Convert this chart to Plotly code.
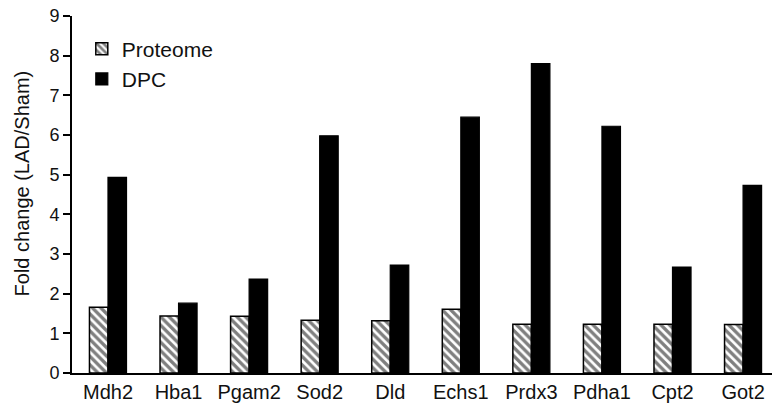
import plotly.graph_objects as go

genes = ["Mdh2", "Hba1", "Pgam2", "Sod2", "Dld", "Echs1", "Prdx3", "Pdha1", "Cpt2", "Got2"]
proteome = [1.66, 1.44, 1.43, 1.33, 1.32, 1.61, 1.23, 1.23, 1.23, 1.22]
dpc = [4.93, 1.76, 2.37, 5.98, 2.72, 6.45, 7.80, 6.22, 2.67, 4.73]
y_ticks = [0, 1, 2, 3, 4, 5, 6, 7, 8, 9]

FONT = "Liberation Sans, Arial, sans-serif"

fig = go.Figure()
fig.add_trace(go.Bar(
    x=genes, y=proteome, name="Proteome",
    marker=dict(color="white", line=dict(color="black", width=1.5),
                pattern=dict(shape="\\", fgcolor="black", bgcolor="white",
                             size=6, solidity=0.55)),
))
fig.add_trace(go.Bar(
    x=genes, y=dpc, name="DPC",
    marker=dict(color="black", line=dict(color="black", width=1.2)),
))

fig.update_layout(
    width=772, height=413,
    margin=dict(l=72, r=0, t=16, b=40, autoexpand=False),
    plot_bgcolor="white", paper_bgcolor="white",
    barmode="group", bargap=0.475, bargroupgap=0,
    font=dict(family=FONT, color="#111", size=18),
    showlegend=True,
    legend=dict(x=0.014, y=0.965, xanchor="left", yanchor="top",
                font=dict(size=21, family=FONT), bgcolor="rgba(0,0,0,0)",
                itemwidth=30, tracegroupgap=0),
    xaxis=dict(range=[-0.51, 9.41], showline=True, linecolor="black", linewidth=2,
               ticks="", tickfont=dict(size=20), showgrid=False, automargin=False),
    yaxis=dict(range=[0, 9], tickvals=y_ticks, showline=True, linecolor="black",
               linewidth=2, ticks="outside", ticklen=7, tickwidth=2, tickcolor="black",
               tickfont=dict(size=18), showgrid=False, zeroline=False, automargin=False),
    annotations=[dict(text="Fold change (LAD/Sham)", textangle=-90,
                      xref="paper", yref="paper", x=-0.0714, y=0.531,
                      xanchor="center", yanchor="middle", showarrow=False,
                      font=dict(size=20, family=FONT, color="#111"))],
)

fig.write_html("out.html", config={"displayModeBar": False},
               post_script="document.body.style.margin='0';")
